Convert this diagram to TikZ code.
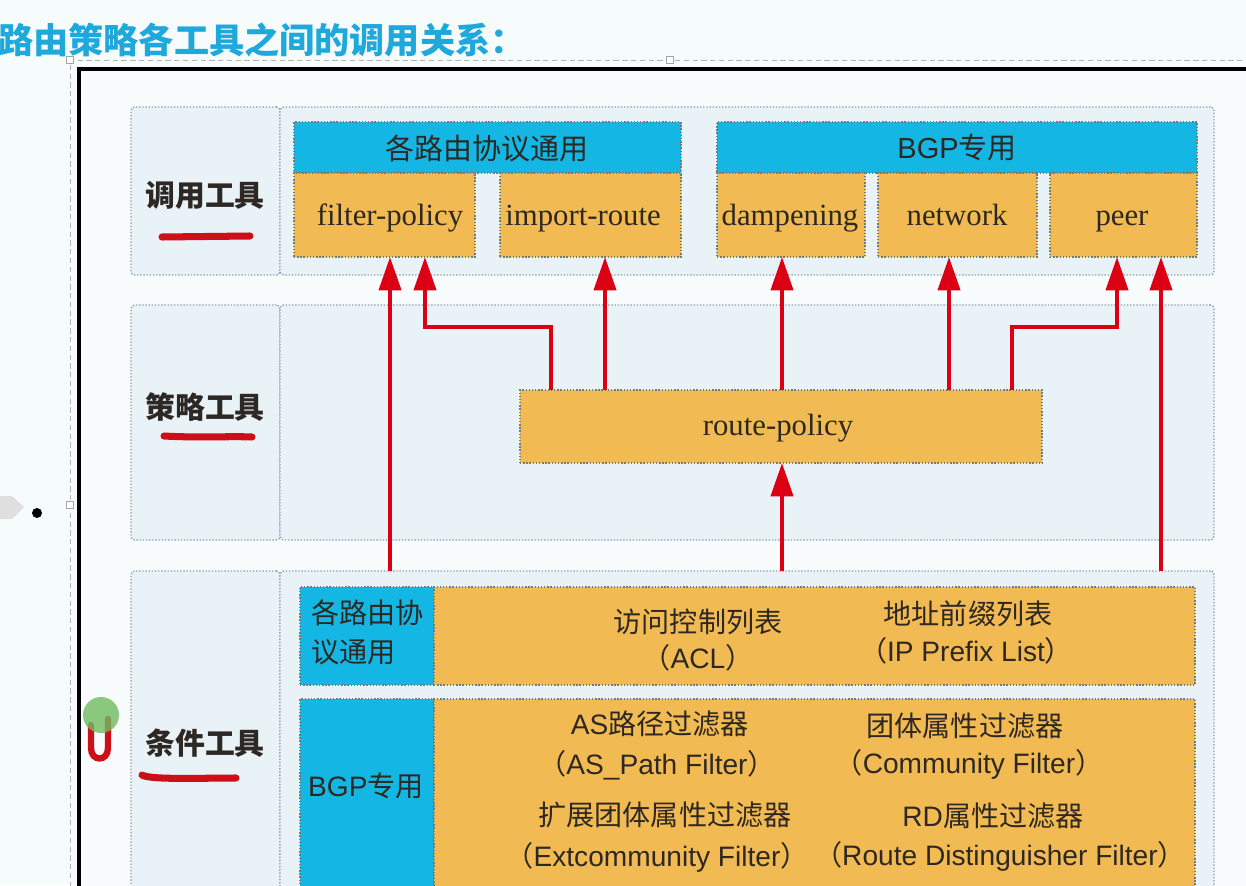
\documentclass[tikz,border=0pt]{standalone}
\usepackage{fontspec}
\setmainfont{Liberation Sans}
\newfontfamily\cjk{Noto Sans CJK SC}
\newfontfamily\serif{Liberation Serif}
\usetikzlibrary{arrows.meta}
\definecolor{bg}{RGB}{246,251,251}
\definecolor{inbg}{RGB}{249,252,253}
\definecolor{band}{RGB}{232,242,247}
\definecolor{bandline}{RGB}{140,160,178}
\definecolor{boxline}{RGB}{110,125,125}
\definecolor{hdr}{RGB}{20,182,228}
\definecolor{org}{RGB}{242,186,82}
\definecolor{redc}{RGB}{220,0,20}
\definecolor{pen}{RGB}{205,15,25}
\definecolor{titlec}{RGB}{30,168,220}
\definecolor{txt}{RGB}{45,40,35}
\definecolor{greenmark}{RGB}{110,188,95}
\tikzset{
  spanbox/.style args={#1/#2/#3/#4}{minimum width={(#3-#1)*0.02cm}, minimum height={(#4-#2)*0.02cm}, at={({(#1+#3)/2},{(#2+#4)/2})}, inner sep=0pt, outer sep=0pt},
  bandbox/.style={draw=bandline, densely dotted, line width=0.8pt, fill=band, rounded corners=2pt},
  hbox/.style={draw=boxline, densely dotted, line width=0.8pt, fill=hdr},
  obox/.style={draw=boxline, densely dotted, line width=0.8pt, fill=org},
  arr/.style={draw=redc, line width=2.4pt, -{Triangle[width=12.5pt,length=19pt]}},
  lbl/.style={inner sep=0pt, text=txt},
  cjkf/.style={lbl, font=\cjk\fontsize{16}{22}\selectfont},
  serf/.style={lbl, anchor=base, font=\serif\fontsize{17.5}{20}\selectfont},
  rowl/.style={lbl, font=\cjk\bfseries\fontsize{17}{20}\selectfont},
  penline/.style={draw=pen, line width=4pt, line cap=round, line join=round},
}
\begin{document}
\begin{tikzpicture}[x=0.02cm,y=-0.02cm]
\useasboundingbox (0,0) rectangle (1246,885);
\clip (0,0) rectangle (1246,885);
\fill[bg] (0,0) rectangle (1246,885);
% title
\node[anchor=west, inner sep=0pt, text=titlec, font=\cjk\bfseries\fontsize{20}{22}\selectfont] (title) at (-2,40) {路由策略各工具之间的调用关系：};
% selection frame
\draw[gray!60, densely dashed, line width=0.5pt] (1260,60) -- (70,60) -- (70,900);
\node[draw=gray!70, fill=white, minimum size=0.14cm, inner sep=0pt] (h1) at (70,60) {};
\node[draw=gray!70, fill=white, minimum size=0.14cm, inner sep=0pt] (h2) at (670,60) {};
\node[draw=gray!70, fill=white, minimum size=0.14cm, inner sep=0pt] (h3) at (70,505) {};
% black frame
\fill[inbg] (79,69) rectangle (1260,900);
\draw[black, line width=2.2pt] (1260,69) -- (79,69) -- (79,900);
% bands
\node[bandbox, spanbox=131/107/280/275] (b1L) {};
\node[bandbox, spanbox=280/107/1214/275] (b1R) {};
\node[bandbox, spanbox=131/305/280/540] (b2L) {};
\node[bandbox, spanbox=280/305/1214/540] (b2R) {};
\node[bandbox, spanbox=131/571/280/905] (b3L) {};
\node[bandbox, spanbox=280/571/1214/905] (b3R) {};
% row 1 boxes
\node[hbox, spanbox=294/122/681/173] (hd1) {};
\node[obox, spanbox=294/173/475/257] (fp) {};
\node[obox, spanbox=500/173/681/257] (ir) {};
\node[hbox, spanbox=717/122/1197/173] (hd2) {};
\node[obox, spanbox=717/173/865/257] (dp) {};
\node[obox, spanbox=878/173/1037/257] (nw) {};
\node[obox, spanbox=1050/173/1197/257] (pr) {};
% row 2
\node[obox, spanbox=520/390/1042/463] (rp) {};
% row 3
\node[hbox, spanbox=300/587/434/685] (c1b) {};
\node[obox, spanbox=434/587/1195/685] (c1o) {};
\node[hbox, spanbox=300/699/434/905] (c2b) {};
\node[obox, spanbox=434/699/1195/905] (c2o) {};
% texts row 1
\node[cjkf, font=\cjk\fontsize{16.5}{20}\selectfont] (t1) at (487,148) {各路由协议通用};
\node[lbl, font=\fontsize{16.5}{20}\selectfont] (t2) at (957,148) {BGP{\cjk 专用}};
\node[serf] (tfp) at (390,225) {filter-policy};
\node[serf] (tir) at (583,225) {import-route};
\node[serf] (tdp) at (790,225) {dampening};
\node[serf] (tnw) at (957,225) {network};
\node[serf] (tpr) at (1122,225) {peer};
\node[serf] (trp) at (778,435) {route-policy};
% row labels
\node[rowl] (l1) at (205,195) {调用工具};
\node[rowl] (l2) at (205,407) {策略工具};
\node[rowl] (l3) at (205,743) {条件工具};
% row 3 texts
\node[cjkf, anchor=west, align=left] (c1t) at (311,632) {各路由协\\议通用};
\node[lbl, font=\fontsize{16}{20}\selectfont] (c2t) at (366,786) {BGP{\cjk 专用}};
\node[cjkf] (acl1) at (698,622) {访问控制列表};
\node[lbl, font=\fontsize{16}{20}\selectfont] (acl2) at (698,658) {{\cjk （}ACL{\cjk ）}};
\node[cjkf] (ip1) at (968,614) {地址前缀列表};
\node[lbl, font=\fontsize{16}{20}\selectfont] (ip2) at (966,651) {{\cjk （}IP Prefix List{\cjk ）}};
\node[lbl, font=\fontsize{16}{20}\selectfont] (as1) at (660,724) {AS{\cjk 路径过滤器}};
\node[lbl, font=\fontsize{16}{20}\selectfont] (as2) at (657,765) {{\cjk （}AS\_Path Filter{\cjk ）}};
\node[cjkf] (cm1) at (965,726) {团体属性过滤器};
\node[lbl, font=\fontsize{16}{20}\selectfont] (cm2) at (969,764) {{\cjk （}Community Filter{\cjk ）}};
\node[cjkf] (ex1) at (665,815) {扩展团体属性过滤器};
\node[lbl, font=\fontsize{16}{20}\selectfont] (ex2) at (657,857) {{\cjk （}Extcommunity Filter{\cjk ）}};
\node[lbl, font=\fontsize{16}{20}\selectfont] (rd1) at (993,816) {RD{\cjk 属性过滤器}};
\node[lbl, font=\fontsize{16}{20}\selectfont] (rd2) at (1000,856) {{\cjk （}Route Distinguisher Filter{\cjk ）}};
% arrows
\coordinate (xa1) at (390,0);
\coordinate (xa2s) at (551,0);
\coordinate (xa2e) at (425,0);
\coordinate (xa3) at (605,0);
\coordinate (xa4) at (782,0);
\coordinate (xa5) at (949,0);
\coordinate (xa6s) at (1012,0);
\coordinate (xa6e) at (1117,0);
\coordinate (xa7) at (1161,0);
\coordinate (yt) at (0,327);
\draw[arr] (xa1 |- b3R.north) -- (xa1 |- fp.south);
\draw[arr] (xa2s |- rp.north) -- (xa2s |- yt) -- (xa2e |- yt) -- (xa2e |- fp.south);
\draw[arr] (xa3 |- rp.north) -- (xa3 |- ir.south);
\draw[arr] (xa4 |- rp.north) -- (xa4 |- dp.south);
\draw[arr] (xa5 |- rp.north) -- (xa5 |- nw.south);
\draw[arr] (xa6s |- rp.north) -- (xa6s |- yt) -- (xa6e |- yt) -- (xa6e |- pr.south);
\draw[arr] (xa7 |- b3R.north) -- (xa7 |- pr.south);
\draw[arr] (xa4 |- b3R.north) -- (xa4 |- rp.south);
% pen annotations
\draw[penline] (162,237) -- (250,236);
\draw[penline] (164,436) .. controls (200,438) and (230,436) .. (252,437);
\draw[penline] (142,775) .. controls (150,780) and (200,778) .. (236,778);
\fill[gray!25] (0,496) -- (12,496) -- (24,507) -- (12,519) -- (0,519) -- cycle;
\fill[black] (37,513) circle (5);
\draw[draw=pen, line width=3.6pt, line cap=round] (91,725) -- (91,748) .. controls (91,762) and (108,762) .. (108,748) -- (108,719);
\fill[greenmark, opacity=0.8] (101,715) circle (18);
\end{tikzpicture}
\end{document}
